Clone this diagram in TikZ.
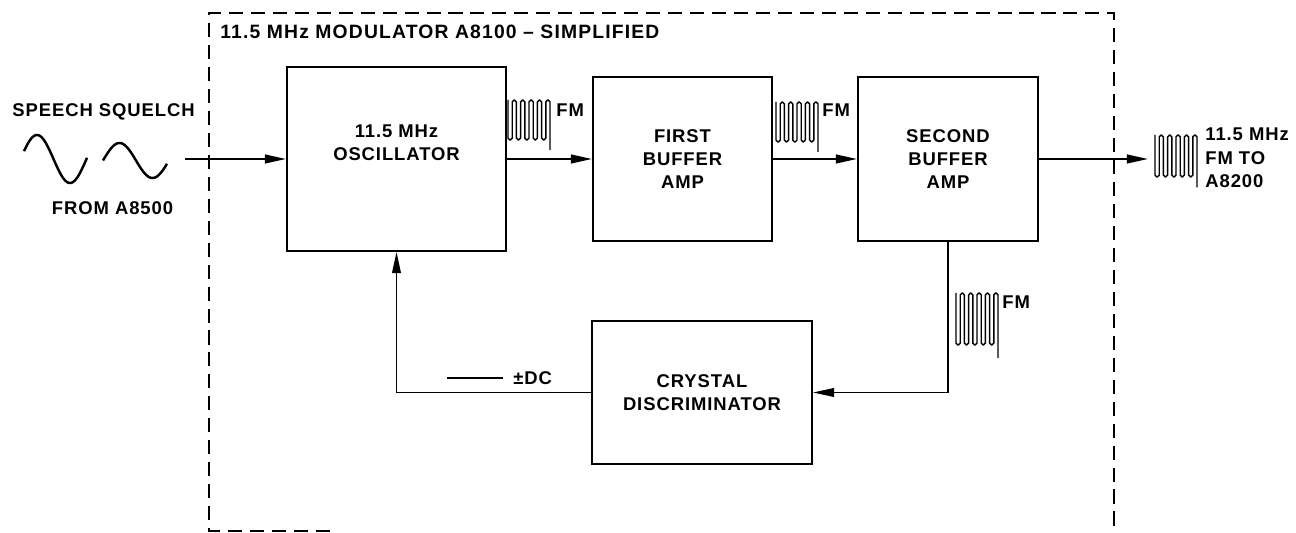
\documentclass[tikz,border=0pt]{standalone}
\usepackage{fontspec}
\setmainfont{Liberation Sans}[LetterSpace=5]
\usetikzlibrary{arrows.meta, positioning}

\begin{document}
\begin{tikzpicture}[
    x=0.02cm, y=-0.02cm,
    block/.style={draw, line width=1.2pt, inner sep=0pt, align=center, font=\bfseries\fontsize{10.5}{13.3}\selectfont},
    txt/.style={inner sep=0pt, font=\bfseries\fontsize{10.5}{13.3}\selectfont},
    flow/.style={line width=1pt, -{Triangle[length=12pt, width=5pt]}},
    back/.style={line width=0.8pt, -{Triangle[length=12pt, width=5pt]}},
    wire/.style={line width=0.9pt},
    frame/.style={line width=0.9pt, dash pattern=on 8pt off 4.5pt},
    sig/.style={line width=0.8pt, rounded corners=1.1pt},
    wave/.style={line width=1.4pt},
    fmsig/.pic={\draw[sig] (0,0) foreach \i in {1,...,5} { -- ++(0,40) -- ++(4.2,0) -- ++(0,-40) -- ++(4.2,0) } -- ++(0,50);}
]
\useasboundingbox (0,0) rectangle (1296,533);

% Frame
\draw[frame] (330,531) -- (209,531) -- (209,13) -- (1114,13) -- (1114,533);
\node[txt, anchor=west, font=\bfseries\fontsize{11}{13}\selectfont\addfontfeature{LetterSpace=6}] (title) at (220,32) {11.5 MHz MODULATOR A8100 -- SIMPLIFIED};

% Blocks
\node[block, minimum width=4.38cm, minimum height=3.68cm] (osc) at (396.5,159) {11.5 MHz\\OSCILLATOR\\[5pt]};
\node[block, minimum width=3.58cm, minimum height=3.28cm] (buf1) at (682.5,159) {FIRST\\BUFFER\\AMP};
\node[block, minimum width=3.6cm, minimum height=3.28cm] (buf2) at (948,159) {SECOND\\BUFFER\\AMP};
\node[block, minimum width=4.4cm, minimum height=2.86cm] (disc) at (702,392.5) {CRYSTAL\\DISCRIMINATOR};

% Input
\node[txt] (speech) at (103.5,112) {SPEECH SQUELCH};
\node[txt] (from) at (112.5,208) {FROM A8500};
\draw[wave] plot[domain=19:363, samples=60, smooth] ({37+(\x-90)/180*33}, {159-24*sin(\x)});
\draw[wave] plot[domain=0:349, samples=60, smooth] ({103+\x/180*33}, {160.5-17.5*sin(\x)});
\coordinate (in) at (185,159);
\draw[flow] (in) -- (osc);

% Forward path
\draw[flow] (osc) -- (buf1);
\pic at (508,100) {fmsig};
\node[txt, anchor=west] (fm1) at (556,110) {FM};
\draw[flow] (buf1) -- (buf2);
\pic at (776,102) {fmsig};
\node[txt, anchor=west] (fm2) at (822,110) {FM};

% Output
\coordinate (out) at (1148,159);
\draw[flow] (buf2) -- (out);
\pic[yscale=1.05] at (1155,135) {fmsig};
\node[txt, anchor=west, align=left] (outtxt) at (1205,158) {11.5 MHz\\FM TO\\A8200};

% Feedback
\draw[back] (buf2.south) |- (disc.east);
\pic[yscale=1.3] at (956,293) {fmsig};
\node[txt, anchor=west] (fm3) at (1002,302) {FM};
\draw[back] (disc.west) -| (osc.south);
\node[txt, anchor=west] (dc) at (513,378) {±DC};
\draw[wire] ([xshift=-0.2cm]dc.west) -- ++(-56,0);

\end{tikzpicture}
\end{document}
